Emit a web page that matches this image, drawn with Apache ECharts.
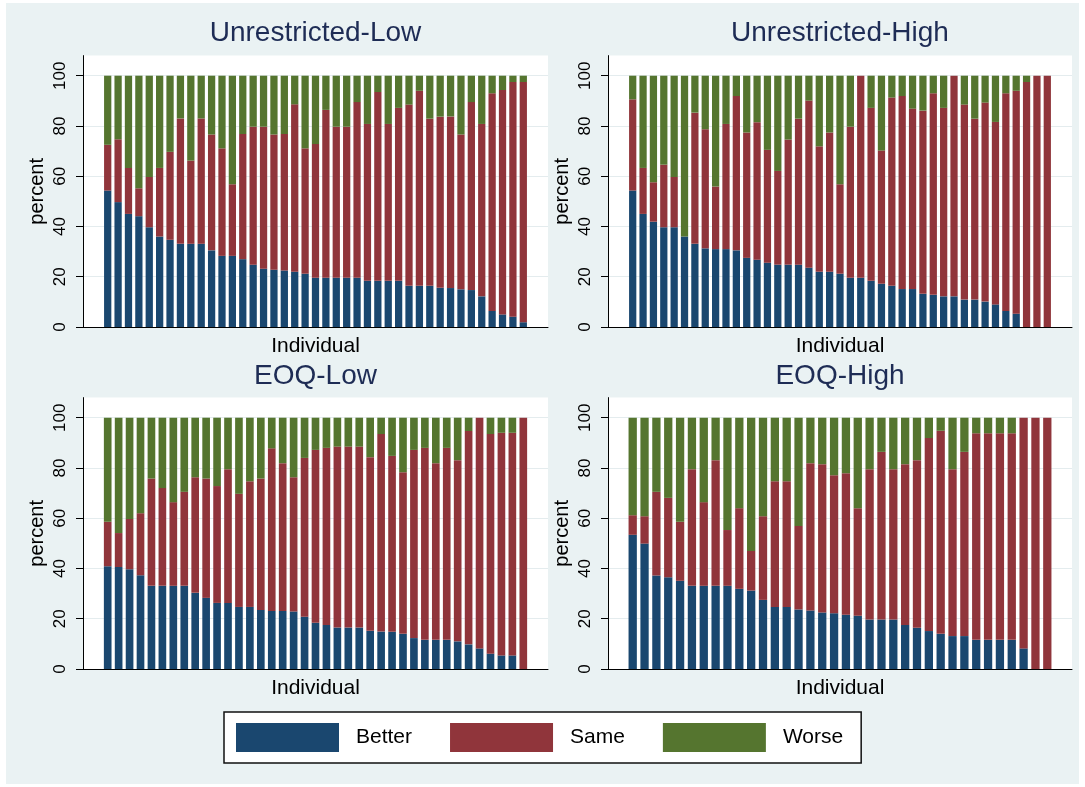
<!DOCTYPE html>
<html>
<head>
<meta charset="utf-8">
<script src="https://cdn.jsdelivr.net/npm/echarts@6/dist/echarts.min.js"></script>
<style>
html,body{margin:0;padding:0;background:#ffffff;}
#bg{position:absolute;left:6px;top:3px;width:1073px;height:781px;background:#eaf2f3;}
#chart{position:absolute;left:0;top:0;width:1085px;height:787px;}
</style>
</head>
<body>
<div id="bg"></div>
<div id="chart"></div>
<script>
// ---------------- data ----------------
const panelTitles = ['Unrestricted-Low', 'Unrestricted-High', 'EOQ-Low', 'EOQ-High'];
const outcomeNames = ['Better', 'Same', 'Worse'];
const yTicks = [0, 20, 40, 60, 80, 100];
const xTitle = 'Individual';
const yTitle = 'percent';

// Unrestricted-Low (41 individuals)
const p1Better = [54.3,49.7,45.0,44.1,39.7,36.0,34.7,33.1,33.1,33.1,30.5,28.3,28.3,27.0,24.8,23.2,22.8,22.5,22.0,21.2,19.6,19.6,19.6,19.6,19.6,18.4,18.4,18.4,18.4,16.4,16.4,16.4,15.6,15.5,15.0,14.7,12.2,6.4,5.0,4.1,1.9];
const p1Same   = [18.2,25.0,18.3,11.1,20.0,27.3,35.0,49.9,33.1,49.9,46.1,42.8,28.5,49.8,54.9,56.5,53.8,54.3,66.6,49.9,53.2,66.8,60.1,60.1,69.9,62.4,75.1,62.4,68.8,72.1,77.6,66.5,68.1,68.3,61.6,74.8,68.6,86.6,89.3,93.4,95.6];
const p1Worse  = [27.5,25.3,36.7,44.8,40.3,36.7,30.3,17.0,33.8,17.0,23.4,28.9,43.2,23.2,20.3,20.3,23.4,23.2,11.4,28.9,27.2,13.6,20.3,20.3,10.5,19.2,6.5,19.2,12.8,11.5,6.0,17.1,16.3,16.2,23.4,10.5,19.2,7.0,5.7,2.5,2.5];

// Unrestricted-High (41 individuals)
const p2Better = [54.3,45.0,41.9,39.7,39.7,36.0,33.1,31.3,31.0,31.0,30.5,27.5,26.8,25.6,24.8,24.8,24.8,23.6,22.0,22.0,21.2,19.6,19.6,18.4,17.2,16.4,15.1,15.1,13.2,12.8,12.2,12.2,10.9,10.9,10.1,9.0,6.4,5.3,0,0,0];
const p2Same   = [36.3,18.3,15.7,24.9,20.0,0,52.2,47.4,24.9,49.8,61.4,49.9,54.7,44.9,37.3,49.8,58.1,66.5,49.9,55.4,35.6,60.1,80.4,68.8,53.0,74.9,76.8,71.8,72.9,80.2,75.0,87.8,77.6,72.0,79.2,72.6,86.6,88.7,97.5,100,100];
const p2Worse  = [9.4,36.7,42.4,35.4,40.3,64.0,14.7,21.3,44.1,19.2,8.1,22.6,18.5,29.5,37.9,25.4,17.1,9.9,28.1,22.6,43.2,20.3,0,12.8,29.8,8.7,8.1,13.1,13.9,7.0,12.8,0,11.5,17.1,10.7,18.4,7.0,6.0,2.5,0,0];

// EOQ-Low (39 individuals)
const p3Better = [40.9,40.6,39.7,37.3,33.1,33.1,33.1,33.1,30.3,28.3,26.3,26.3,24.7,24.7,23.5,23.1,23.1,22.9,20.8,18.4,17.5,16.5,16.5,16.5,15.2,14.9,14.8,14.0,12.3,11.6,11.6,11.6,11.0,9.8,8.2,6.1,5.4,5.4,0];
const p3Same   = [17.7,13.5,20.0,24.7,42.7,38.9,33.3,37.4,46.0,47.5,46.5,53.2,45.0,50.0,52.3,64.7,58.8,53.4,63.2,68.8,70.5,72.0,72.0,72.0,69.1,78.6,70.0,64.3,74.9,76.4,70.3,76.4,72.1,84.9,91.8,87.4,88.6,88.6,100];
const p3Worse  = [41.4,45.9,40.3,38.0,24.2,28.0,33.6,29.5,23.7,24.2,27.2,20.5,30.3,25.3,24.2,12.2,18.1,23.7,16.0,12.8,12.0,11.5,11.5,11.5,15.7,6.5,15.2,21.7,12.8,12.0,18.1,12.0,16.9,5.3,0,6.5,6.0,6.0,0];

// EOQ-High (36 individuals)
const p4Better = [53.4,49.9,37.2,36.5,35.1,33.1,33.1,33.1,33.1,31.9,31.2,27.5,24.7,24.7,23.7,23.3,22.5,22.2,21.6,21.2,19.7,19.7,19.7,17.5,16.4,15.1,14.0,13.1,13.1,11.6,11.6,11.6,11.6,8.2,0,0];
const p4Same   = [7.8,10.9,33.3,31.6,23.5,46.4,33.3,50.0,22.2,32.1,15.8,33.3,50.0,50.0,33.2,58.6,59.0,54.9,56.3,42.8,59.8,66.7,59.8,64.0,66.7,76.8,80.8,66.4,73.3,82.2,82.2,82.2,82.2,91.8,100,100];
const p4Worse  = [38.8,39.2,29.5,31.9,41.4,20.5,33.6,16.9,44.7,36.0,53.0,39.2,25.3,25.3,43.1,18.1,18.5,22.9,22.1,36.0,20.5,13.6,20.5,18.5,16.9,8.1,5.2,20.5,13.6,6.2,6.2,6.2,6.2,0,0,0];

const panelData = [
  [p1Better, p1Same, p1Worse],
  [p2Better, p2Same, p2Worse],
  [p3Better, p3Same, p3Worse],
  [p4Better, p4Same, p4Worse]
];

// ---------------- styling / layout ----------------
const FONT = '"Liberation Sans", Arial, Helvetica, sans-serif';
const COLORS = ['#1a476f', '#90353b', '#55752f'];
const TITLE_COLOR = '#1e2c55';
const GRID_LINE = '#e4ecee';
const YMAX = 108;
const PAD_PX = 24.7;
const frames = [
  {left: 83,  top: 55.6,  width: 465, height: 271.4},
  {left: 608, top: 55.6,  width: 464, height: 271.4},
  {left: 83,  top: 397.6, width: 465, height: 271.4},
  {left: 608, top: 397.6, width: 464, height: 271.4}
];
const titlePos = [
  {x: 315.5, y: 33},
  {x: 840,   y: 33},
  {x: 315.5, y: 376},
  {x: 840,   y: 376}
];

const option = {
  animation: false,
  backgroundColor: 'transparent',
  textStyle: {fontFamily: FONT},
  grid: [],
  xAxis: [],
  yAxis: [],
  series: [],
  legend: {
    data: outcomeNames,
    left: 224, top: 712,
    orient: 'horizontal',
    icon: 'rect',
    itemWidth: 103, itemHeight: 29,
    itemGap: 38,
    padding: [11, 18, 11, 12],
    backgroundColor: '#ffffff',
    borderColor: '#111111',
    borderWidth: 1.5,
    selectedMode: false,
    textStyle: {fontSize: 21, color: '#000', fontFamily: FONT, width: 60, padding: [0, 0, 0, 12]}
  },
  graphic: panelTitles.map((t, i) => ({
    type: 'text', x: titlePos[i].x, y: titlePos[i].y, silent: true,
    style: {text: t, font: '28px ' + FONT, fill: TITLE_COLOR, align: 'center', verticalAlign: 'middle'}
  }))
};

panelData.forEach((arrs, p) => {
  const n = arrs[0].length;
  const f = frames[p];
  const step = (f.width - 2 * PAD_PX) / (n - 1);
  const frameIdx = 2 * p, barIdx = 2 * p + 1;
  // frame grid: white plot region, axes, gridlines, titles
  option.grid.push({left: f.left, top: f.top, width: f.width, height: f.height,
    show: true, backgroundColor: '#ffffff', borderWidth: 0, containLabel: false});
  // bar grid: inset so that the bars sit inside the plot region with margins
  option.grid.push({left: f.left + PAD_PX - step / 2, top: f.top, width: n * step, height: f.height,
    show: false, containLabel: false});

  option.xAxis.push({
    gridIndex: frameIdx, type: 'value', min: 0, max: 1,
    axisLine: {show: true, onZero: false, lineStyle: {color: '#000', width: 1}},
    axisTick: {show: false}, axisLabel: {show: false}, splitLine: {show: false},
    name: xTitle, nameLocation: 'middle', nameGap: 9,
    nameTextStyle: {fontSize: 21, color: '#000', fontFamily: FONT}
  });
  option.yAxis.push({
    gridIndex: frameIdx, type: 'value', min: 0, max: YMAX,
    axisLine: {show: true, lineStyle: {color: '#000', width: 1}},
    axisTick: {show: true, length: 7, customValues: yTicks, lineStyle: {color: '#000', width: 1}},
    axisLabel: {rotate: 90, margin: 14, fontSize: 17, color: '#000', fontFamily: FONT, customValues: yTicks},
    splitLine: {show: true, lineStyle: {color: GRID_LINE, width: 1.2}},
    name: yTitle, nameLocation: 'middle', nameGap: 36,
    nameTextStyle: {fontSize: 20, color: '#000', fontFamily: FONT}
  });
  option.xAxis.push({
    gridIndex: barIdx, type: 'category', data: arrs[0].map((_, i) => String(i + 1)),
    boundaryGap: true, show: false
  });
  option.yAxis.push({
    gridIndex: barIdx, type: 'value', min: 0, max: YMAX, show: false, splitLine: {show: false}
  });
  arrs.forEach((vals, k) => {
    option.series.push({
      type: 'bar', name: outcomeNames[k], stack: 'panel' + p,
      xAxisIndex: barIdx, yAxisIndex: barIdx,
      barWidth: '70%',
      itemStyle: {color: COLORS[k]},
      emphasis: {disabled: true},
      silent: true,
      data: vals
    });
  });
});

const chart = echarts.init(document.getElementById('chart'), null, {renderer: 'canvas'});
chart.setOption(option);
</script>
</body>
</html>
